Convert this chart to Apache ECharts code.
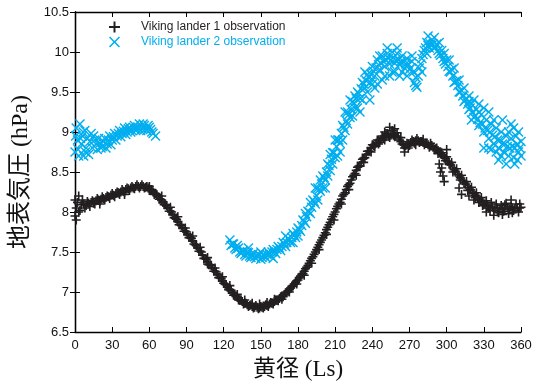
<!DOCTYPE html>
<html>
<head>
<meta charset="utf-8">
<script src="https://cdn.jsdelivr.net/npm/echarts@6/dist/echarts.min.js"></script>
<style>
  html, body { margin: 0; padding: 0; background: #fff; }
  #chart { width: 543px; height: 386px; }
</style>
</head>
<body>
<div id="chart"></div>
<script>
// axis ticks
const lsTicks = [0, 30, 60, 90, 120, 150, 180, 210, 240, 270, 300, 330, 360];
const pTicks = [6.5, 7, 7.5, 8, 8.5, 9, 9.5, 10, 10.5];

// Viking lander 1 : [Ls, hPa]  (even Ls + scattered outliers)
const vl1 = [
  [0,7.95],[2,8.12],[4,8.02],[6,8.15],[8,8.05],[10,8.13],[12,8.07],[14,8.14],[16,8.10],[18,8.17],
  [20,8.13],[22,8.19],[24,8.15],[26,8.20],[28,8.17],[30,8.23],[32,8.19],[34,8.25],[36,8.22],[38,8.28],
  [40,8.25],[42,8.30],[44,8.27],[46,8.32],[48,8.29],[50,8.34],[52,8.30],[54,8.34],[56,8.30],[58,8.32],
  [60,8.27],[62,8.28],[64,8.22],[66,8.22],[68,8.16],[70,8.15],[72,8.09],[74,8.08],[76,8.01],[78,8.00],
  [80,7.93],[82,7.91],[84,7.84],[86,7.83],[88,7.76],[90,7.75],[92,7.68],[94,7.67],[96,7.60],[98,7.58],
  [100,7.51],[102,7.50],[104,7.42],[106,7.41],[108,7.34],[110,7.33],[112,7.26],[114,7.25],[116,7.18],[118,7.17],
  [120,7.11],[122,7.09],[124,7.03],[126,7.02],[128,6.96],[130,6.95],[132,6.90],[134,6.90],[136,6.85],[138,6.86],
  [140,6.82],[142,6.84],[144,6.80],[146,6.83],[148,6.79],[150,6.82],[152,6.80],[154,6.84],[156,6.82],[158,6.87],
  [160,6.85],[162,6.90],[164,6.89],[166,6.94],[168,6.94],[170,6.99],[172,7.01],[174,7.05],[176,7.08],[178,7.12],
  [180,7.15],[182,7.20],[184,7.23],[186,7.29],[188,7.33],[190,7.39],[192,7.44],[194,7.50],[196,7.56],[198,7.62],
  [200,7.68],[202,7.74],[204,7.81],[206,7.87],[208,7.94],[210,8.00],[212,8.07],[214,8.12],[216,8.20],[218,8.24],
  [220,8.32],[222,8.36],[224,8.44],[226,8.48],[228,8.56],[230,8.58],[232,8.66],[234,8.68],[236,8.76],[238,8.76],
  [240,8.84],[242,8.82],[244,8.90],[246,8.87],[248,8.95],[250,8.90],[252,8.98],[254,8.93],[256,9.02],[258,8.94],
  [260,8.99],[262,8.90],[264,8.85],[266,8.80],[268,8.86],[270,8.83],[272,8.90],[274,8.86],[276,8.92],[278,8.87],
  [280,8.88],[282,8.84],[284,8.86],[286,8.81],[288,8.83],[290,8.78],[292,8.80],[294,8.74],[296,8.74],[298,8.68],
  [300,8.69],[302,8.61],[304,8.62],[306,8.53],[308,8.54],[310,8.45],[312,8.46],[314,8.37],[316,8.38],[318,8.30],
  [320,8.31],[322,8.23],[324,8.24],[326,8.16],[328,8.18],[330,8.09],[332,8.14],[334,8.05],[336,8.12],[338,8.02],
  [340,8.10],[342,7.99],[344,8.08],[346,8.01],[348,8.11],[350,7.98],[352,8.07],[354,8.02],[356,8.10],[358,8.00],
  [360,8.06],
  [0,8.15],[1,7.90],[3,8.20],[254,9.06],[258,9.04],[250,9.00],[266,8.75],[294,8.60],[295,8.50],[296,8.55],
  [297,8.45],[298,8.38],[300,8.78],[310,8.30],[312,8.22],[318,8.20],[322,8.15],[326,8.12],[332,8.00],
  [338,7.96],[345,7.97],[352,8.15]
];

// Viking lander 1 : odd Ls readings
const vl1Odd = [
  [1,8.05],[3,8.00],[5,8.09],[7,8.10],[9,8.08],[11,8.11],[13,8.12],[15,8.11],[17,8.14],[19,8.15],
  [21,8.16],[23,8.17],[25,8.18],[27,8.19],[29,8.21],[31,8.21],[33,8.23],[35,8.24],[37,8.25],[39,8.26],
  [41,8.28],[43,8.29],[45,8.30],[47,8.30],[49,8.32],[51,8.32],[53,8.32],[55,8.32],[57,8.31],[59,8.30],
  [61,8.28],[63,8.25],[65,8.23],[67,8.19],[69,8.16],[71,8.12],[73,8.09],[75,8.05],[77,8.01],[79,7.97],
  [81,7.92],[83,7.88],[85,7.84],[87,7.80],[89,7.76],[91,7.72],[93,7.68],[95,7.64],[97,7.59],[99,7.55],
  [101,7.51],[103,7.46],[105,7.42],[107,7.38],[109,7.34],[111,7.30],[113,7.26],[115,7.22],[117,7.18],[119,7.14],
  [121,7.10],[123,7.06],[125,7.03],[127,6.99],[129,6.96],[131,6.93],[133,6.90],[135,6.88],[137,6.86],[139,6.84],
  [141,6.83],[143,6.82],[145,6.81],[147,6.81],[149,6.80],[151,6.81],[153,6.82],[155,6.83],[157,6.85],[159,6.86],
  [161,6.88],[163,6.90],[165,6.92],[167,6.95],[169,6.97],[171,7.00],[173,7.03],[175,7.07],[177,7.10],[179,7.14],
  [181,7.18],[183,7.22],[185,7.26],[187,7.31],[189,7.36],[191,7.42],[193,7.47],[195,7.53],[197,7.59],[199,7.65],
  [201,7.71],[203,7.78],[205,7.84],[207,7.91],[209,7.97],[211,8.04],[213,8.10],[215,8.16],[217,8.22],[219,8.28],
  [221,8.34],[223,8.40],[225,8.46],[227,8.52],[229,8.57],[231,8.62],[233,8.67],[235,8.72],[237,8.76],[239,8.80],
  [241,8.83],[243,8.86],[245,8.89],[247,8.91],[249,8.93],[251,8.94],[253,8.95],[255,8.96],[257,8.96],[259,8.95],
  [261,8.93],[263,8.88],[265,8.84],[267,8.83],[269,8.85],[271,8.87],[273,8.88],[275,8.89],[277,8.89],[279,8.88],
  [281,8.87],[283,8.86],[285,8.84],[287,8.83],[289,8.81],[291,8.79],[293,8.77],[295,8.74],[297,8.71],[299,8.67],
  [301,8.63],[303,8.59],[305,8.55],[307,8.51],[309,8.47],[311,8.43],[313,8.39],[315,8.35],[317,8.31],[319,8.28],
  [321,8.24],[323,8.21],[325,8.18],[327,8.15],[329,8.12],[331,8.10],[333,8.08],[335,8.07],[337,8.06],[339,8.05],
  [341,8.05],[343,8.04],[345,8.04],[347,8.04],[349,8.05],[351,8.04],[353,8.05],[355,8.04],[357,8.05],[359,8.05]
];

// Viking lander 1 : further scattered readings
const vl1Extra = [
  [77,8.06],[83,7.94],[89,7.80],[95,7.70],[101,7.56],[107,7.43],[113,7.30],[119,7.19],[125,7.08],[131,6.97],
  [137,6.90],[143,6.86],[149,6.85],[155,6.87],[161,6.91],[167,6.91],[173,7.00],[179,7.10],[185,7.21],[191,7.36],
  [197,7.53],[203,7.72],[209,7.90],[215,8.10],[221,8.28],[227,8.46],[233,8.62],[239,8.75],[245,8.85],[251,8.98],
  [257,8.98],[263,8.93],[269,8.80],[275,8.84],[281,8.91],[287,8.86],[293,8.73],[299,8.64],[305,8.50],[311,8.40],
  [317,8.27],[323,8.18],[329,8.08],[335,8.02],[341,8.00],[347,8.09],[353,7.99],[359,8.10],[107,7.35],[20,8.10],
  [40,8.22],[60,8.32],[70,8.20]
];

// Viking lander 2 : [Ls, hPa]  (even Ls + scattered)
const vl2 = [
  [0,8.75],[1,9.05],[2,8.90],[3,8.70],[4,9.10],[5,8.85],[6,8.95],[7,8.70],[8,9.02],[9,8.80],
  [10,8.92],[11,8.72],[12,8.88],[13,8.98],[14,8.80],[16,8.90],[18,8.78],[20,8.86],[22,8.82],[24,8.92],
  [26,8.85],[28,8.95],[30,8.90],[32,8.98],[34,8.95],[36,9.02],[38,8.98],[40,9.05],[42,9.00],[44,9.06],
  [46,9.02],[48,9.08],[50,9.03],[52,9.10],[54,9.04],[56,9.08],[58,9.02],[60,9.06],[62,9.00],[65,8.95],
  [125,7.65],[126,7.58],[128,7.60],[130,7.53],[132,7.55],[134,7.48],[136,7.52],[138,7.45],[140,7.49],[142,7.43],
  [144,7.48],[146,7.42],[148,7.47],[150,7.41],[152,7.47],[154,7.43],[156,7.50],[158,7.45],[160,7.53],[162,7.48],
  [164,7.57],[166,7.52],[168,7.62],[170,7.57],[172,7.67],[174,7.62],[176,7.73],[178,7.68],[180,7.80],[182,7.76],
  [184,7.90],[186,7.86],[188,8.01],[190,7.98],[192,8.15],[194,8.10],[196,8.30],[198,8.26],[200,8.45],[202,8.40],
  [204,8.60],[206,8.52],[208,8.74],[210,8.68],[212,8.90],[214,8.86],[216,9.08],[218,9.02],[220,9.25],[222,9.18],
  [224,9.38],[226,9.30],[228,9.50],[230,9.42],[232,9.62],[234,9.55],[236,9.72],[238,9.62],[240,9.82],[242,9.70],
  [244,9.90],[246,9.78],[248,9.95],[250,9.82],[252,9.98],[254,9.85],[256,10.00],[258,9.86],[260,9.98],[262,9.84],
  [264,9.95],[266,9.80],[268,9.92],[270,9.78],[272,9.88],[274,9.62],[276,9.56],[278,9.80],[280,9.92],[282,10.02],
  [284,10.12],[286,10.05],[288,10.15],[290,10.05],[292,10.10],[294,9.98],[296,10.02],[298,9.88],[300,9.90],[302,9.76],
  [304,9.78],[306,9.62],[308,9.64],[310,9.50],[312,9.52],[314,9.38],[316,9.42],[318,9.28],[320,9.35],[322,9.18],
  [324,9.28],[326,9.08],[328,9.22],[330,9.00],[332,9.15],[334,8.92],[336,9.10],[338,8.85],[340,9.05],[342,8.80],
  [344,9.00],[346,8.75],[348,8.95],[350,8.70],[352,8.92],[354,8.68],[356,8.95],[358,8.75],[360,8.88],
  [230,9.25],[236,9.50],[242,9.55],[248,9.65],[254,9.70],[262,9.70],[244,9.60],[238,9.40],[258,9.75],[320,9.15],
  [330,8.80],[336,8.78],[342,8.65],[348,8.60],[355,8.60],[358,9.00],[352,9.10],[345,9.15],[334,9.25],[326,9.35],
  [318,9.45],[290,10.18],[285,10.20],[226,9.45],[220,9.10],[214,8.75],[208,8.60],[202,8.30],[196,8.15]
];

// Viking lander 2 : odd Ls readings
const vl2Odd = [
  [15,8.95],[17,8.85],[19,8.92],[21,8.80],[23,8.88],[25,8.80],[27,8.90],[29,8.84],[31,8.94],[33,8.90],
  [35,8.98],[37,8.94],[39,9.01],[41,8.97],[43,9.04],[45,9.00],[47,9.06],[49,9.02],[51,9.06],[53,9.02],
  [55,9.10],[57,9.04],[59,9.08],[61,9.03],[63,8.98],[0.5,8.95],[2.5,8.78],[4.5,8.92],[6.5,9.00],[8.5,8.75],
  [127,7.60],[129,7.55],[131,7.58],[133,7.50],[135,7.50],[137,7.47],[139,7.50],[141,7.45],[143,7.46],[145,7.44],
  [147,7.45],[149,7.46],[151,7.43],[153,7.45],[155,7.47],[157,7.47],[159,7.50],[161,7.50],[163,7.53],[165,7.55],
  [167,7.57],[169,7.60],[171,7.62],[173,7.65],[175,7.68],[177,7.71],[179,7.75],[181,7.78],[183,7.83],[185,7.88],
  [187,7.94],[189,8.00],[191,8.06],[193,8.13],[195,8.20],[197,8.28],[199,8.35],[201,8.43],[203,8.50],[205,8.58],
  [207,8.66],[209,8.74],[211,8.82],[213,8.90],[215,8.98],[217,9.06],[219,9.14],[221,9.22],[223,9.28],[225,9.36],
  [227,9.42],[229,9.48],[231,9.54],[233,9.60],[235,9.64],[237,9.68],[239,9.72],[241,9.76],[243,9.80],[245,9.84],
  [247,9.86],[249,9.88],[251,9.90],[253,9.92],[255,9.90],[257,9.93],[259,9.90],[261,9.90],[263,9.88],[265,9.88],
  [267,9.85],[269,9.85],[271,9.80],[273,9.75],[275,9.68],[277,9.70],[279,9.85],[281,9.97],[283,10.05],[285,10.08],
  [287,10.10],[289,10.10],[291,10.06],[293,10.02],[295,9.96],[297,9.92],[299,9.85],[301,9.82],[303,9.75],[305,9.70],
  [307,9.63],[309,9.58],[311,9.50],[313,9.45],[315,9.40],[317,9.35],[319,9.30],[321,9.25],[323,9.20],[325,9.16],
  [327,9.12],[329,9.10],[331,9.05],[333,9.02],[335,9.00],[337,8.96],[339,8.94],[341,8.90],[343,8.90],[345,8.85],
  [347,8.85],[349,8.82],[351,8.80],[353,8.82],[355,8.80],[357,8.85],[359,8.80]
];

// Viking lander 2 : further scattered readings
const vl2Extra = [
  [186,7.98],[190,8.12],[194,8.30],[198,8.40],[200,8.30],[204,8.45],[206,8.72],[210,8.90],[212,8.70],[216,8.90],
  [218,9.25],[222,9.40],[224,9.20],[228,9.30],[232,9.40],[234,9.75],[240,9.60],[246,9.95],[250,9.70],[252,10.05],
  [256,9.75],[260,10.05],[264,9.75],[268,9.70],[272,9.95],[275,9.58],[280,9.75],[284,9.98],[294,10.12],[298,9.98],
  [302,9.90],[306,9.80],[310,9.65],[314,9.55],[318,9.38],[322,9.40],[326,9.25],[330,9.30],[334,8.80],[338,9.15],
  [340,8.75],[344,8.70],[350,9.00],[354,9.05],[360,8.70],[357,8.65],[140,7.55],[150,7.50],[160,7.42],[170,7.70],
  [176,7.62],[180,7.70]
];

const plusIcon = 'path://M0,4.1H10V5.9H0Z M4.1,0H5.9V10H4.1Z';
const crossIcon = 'path://M0,1 L1,0 L5,4 L9,0 L10,1 L6,5 L10,9 L9,10 L5,6 L1,10 L0,9 L4,5 Z';
const black = '#231f20';
const cyan = '#00aeef';

const chart = echarts.init(document.getElementById('chart'), null, { renderer: 'canvas' });

const axisLine = { show: true, lineStyle: { color: '#000', width: 1.3 } };
const tick = { show: true, inside: true, length: 5, lineStyle: { color: '#000', width: 1 } };
const labelFont = { fontFamily: 'Liberation Sans, Arial, sans-serif', fontSize: 13, color: '#111' };
const nameFont = { fontFamily: '"Liberation Serif", "Noto Sans CJK JP", serif', fontSize: 24, color: '#111' };

chart.setOption({
  animation: false,
  backgroundColor: '#fff',
  grid: { left: 75, right: 22, top: 12, bottom: 54, containLabel: false, outerBoundsMode: 'none' },
  legend: {
    orient: 'vertical',
    left: 104,
    top: 16,
    itemWidth: 11,
    itemHeight: 11,
    itemGap: 3,
    textStyle: { fontFamily: 'Liberation Sans, Arial, sans-serif', fontSize: 12, padding: [0, 0, 0, 16] },
    data: [
      { name: 'Viking lander 1 observation', icon: plusIcon, textStyle: { color: black } },
      { name: 'Viking lander 2 observation', icon: crossIcon, textStyle: { color: cyan } }
    ]
  },
  xAxis: [
    {
      type: 'value', min: 0, max: 360, interval: 30,
      name: '黄径 (Ls)', nameLocation: 'middle', nameGap: 26,
      nameTextStyle: Object.assign({}, nameFont, { fontSize: 23 }),
      axisLine: axisLine, axisTick: tick, splitLine: { show: false },
      axisLabel: Object.assign({ margin: 7, customValues: lsTicks }, labelFont)
    },
    {
      type: 'value', position: 'top', min: 0, max: 360, interval: 30,
      axisLine: axisLine, axisTick: tick, splitLine: { show: false }, axisLabel: { show: false }
    }
  ],
  yAxis: [
    {
      type: 'value', min: 6.5, max: 10.5, interval: 0.5,
      name: '地表気圧 (hPa)', nameLocation: 'middle', nameGap: 30, nameTextStyle: nameFont,
      axisLine: axisLine, axisTick: tick, splitLine: { show: false },
      axisLabel: Object.assign({ margin: 6 }, labelFont)
    },
    {
      type: 'value', position: 'right', min: 6.5, max: 10.5, interval: 0.5,
      axisLine: axisLine, axisTick: tick, splitLine: { show: false }, axisLabel: { show: false }
    }
  ],
  series: [
    {
      name: 'Viking lander 1 observation',
      type: 'scatter',
      symbol: plusIcon,
      symbolSize: 9,
      itemStyle: { color: black, opacity: 1 },
      data: vl1.concat(vl1Odd, vl1Extra)
    },
    {
      name: 'Viking lander 2 observation',
      type: 'scatter',
      symbol: crossIcon,
      symbolSize: 10,
      itemStyle: { color: cyan, opacity: 1 },
      data: vl2.concat(vl2Odd, vl2Extra)
    }
  ]
});
</script>
</body>
</html>
